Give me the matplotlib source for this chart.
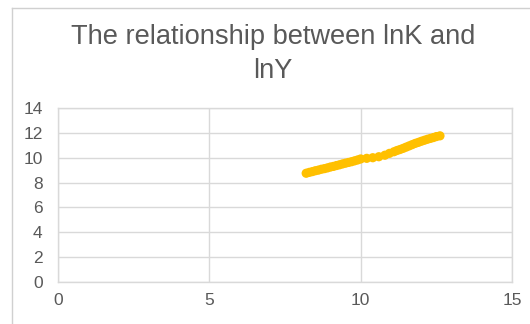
import matplotlib.pyplot as plt
from matplotlib.lines import Line2D

# lnK vs lnY
lnK = [8.2, 8.3, 8.4, 8.5, 8.6, 8.7, 8.8, 8.9, 9.0, 9.1,
       9.2, 9.3, 9.4, 9.5, 9.6, 9.7, 9.8, 9.9, 10.0, 10.2,
       10.4, 10.6, 10.8, 10.95, 11.1, 11.2, 11.3, 11.4, 11.5, 11.6,
       11.7, 11.8, 11.9, 12.0, 12.1, 12.2, 12.3, 12.4, 12.5, 12.62]
lnY = [8.75, 8.82, 8.88, 8.95, 9.0, 9.07, 9.12, 9.18, 9.25, 9.3,
       9.37, 9.43, 9.5, 9.56, 9.62, 9.68, 9.75, 9.82, 9.9, 9.95,
       10.0, 10.08, 10.2, 10.35, 10.48, 10.58, 10.66, 10.75, 10.85, 10.95,
       11.05, 11.15, 11.23, 11.32, 11.4, 11.48, 11.55, 11.62, 11.7, 11.76]

x_ticks = [0, 5, 10, 15]
y_ticks = [0, 2, 4, 6, 8, 10, 12, 14]
title = "The relationship between lnK and\nlnY"

W, H = 530, 324
plt.rcParams['font.family'] = ['Liberation Sans', 'DejaVu Sans']
fig = plt.figure(figsize=(W / 100, H / 100), dpi=100)

# chart area border (only the left and top edges show in the crop)
bx, by = 11.5 / W, 1 - 7.5 / H
fig.add_artist(Line2D([bx, bx], [0, by], transform=fig.transFigure,
                      color='#D0D0D0', linewidth=1.0))
fig.add_artist(Line2D([bx, 1], [by, by], transform=fig.transFigure,
                      color='#D0D0D0', linewidth=1.0))

ax = fig.add_axes([58 / W, 1 - 282 / H, (512 - 58) / W, (282 - 108) / H])
ax.scatter(lnK, lnY, s=44, color='#FFC000', edgecolors='none', zorder=3)

ax.set_xlim(0, 15)
ax.set_ylim(0, 14)
ax.set_xticks(x_ticks)
ax.set_yticks(y_ticks)
ax.grid(True, color='#D9D9D9', linewidth=1.0)
ax.set_axisbelow(True)
for s in ax.spines.values():
    s.set_color('#D9D9D9')
    s.set_linewidth(1.0)
ax.tick_params(length=0, labelsize=12.5, colors='#595959')
ax.tick_params(axis='x', pad=8)
ax.tick_params(axis='y', pad=11)

fig.text(273 / W, 1 - 54 / H, title, ha='center', va='center',
         fontsize=19.6, color='#595959', linespacing=1.37)

fig.savefig('out.png', dpi=100)
